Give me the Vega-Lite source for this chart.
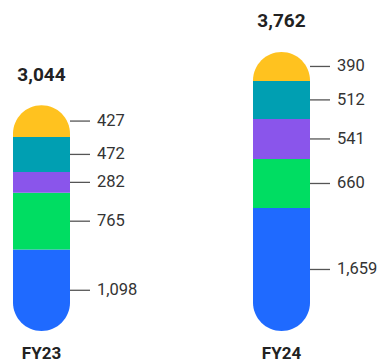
{
  "$schema": "https://vega.github.io/schema/vega-lite/v6.json",
  "width": 380,
  "height": 361,
  "autosize": {"type": "none"},
  "padding": 0,
  "background": "white",
  "config": {"view": {"stroke": null}, "font": "Roboto"},
  "data": {
    "values": [
      {"year": "FY23", "segment": "Segment 1", "order": 1, "value": 1098},
      {"year": "FY23", "segment": "Segment 2", "order": 2, "value": 765},
      {"year": "FY23", "segment": "Segment 3", "order": 3, "value": 282},
      {"year": "FY23", "segment": "Segment 4", "order": 4, "value": 472},
      {"year": "FY23", "segment": "Segment 5", "order": 5, "value": 427},
      {"year": "FY24", "segment": "Segment 1", "order": 1, "value": 1659},
      {"year": "FY24", "segment": "Segment 2", "order": 2, "value": 660},
      {"year": "FY24", "segment": "Segment 3", "order": 3, "value": 541},
      {"year": "FY24", "segment": "Segment 4", "order": 4, "value": 512},
      {"year": "FY24", "segment": "Segment 5", "order": 5, "value": 390}
    ]
  },
  "transform": [
    {"stack": "value", "groupby": ["year"], "sort": [{"field": "order", "order": "ascending"}], "as": ["y0", "y1"]}
  ],
  "encoding": {
    "x": {"field": "year", "type": "nominal", "scale": {"type": "point", "range": [41.5, 281.5], "padding": 0}, "axis": null}
  },
  "layer": [
    {
      "transform": [{"filter": {"field": "order", "gte": 4}}],
      "mark": {"type": "bar", "width": 57, "color": "#FFC21F", "cornerRadiusTopLeft": 28.5, "cornerRadiusTopRight": 28.5},
      "encoding": {
        "y": {"aggregate": "max", "field": "y1", "type": "quantitative", "scale": {"domain": [0, 4463], "range": [331, 0], "nice": false}, "axis": null},
        "y2": {"aggregate": "min", "field": "y0"}
      }
    },
    {
      "transform": [{"filter": {"field": "order", "equal": 1}}],
      "mark": {"type": "bar", "width": 57, "color": "#1F6AFF", "cornerRadiusBottomLeft": 28.5, "cornerRadiusBottomRight": 28.5},
      "encoding": {
        "y": {"field": "y1", "type": "quantitative", "scale": {"domain": [0, 4463], "range": [331, 0], "nice": false}, "axis": null},
        "y2": {"field": "y0"}
      }
    },
    {
      "transform": [{"filter": {"field": "order", "range": [2, 4]}}],
      "mark": {"type": "bar", "width": 57},
      "encoding": {
        "y": {"field": "y1", "type": "quantitative", "scale": {"domain": [0, 4463], "range": [331, 0], "nice": false}, "axis": null},
        "y2": {"field": "y0"},
        "color": {"field": "segment", "type": "nominal", "scale": {"domain": ["Segment 2", "Segment 3", "Segment 4"], "range": ["#00DD62", "#8A55EB", "#009FB2"]}, "legend": null}
      }
    },
    {
      "transform": [
        {"fold": ["y0", "y1"], "as": ["k", "v"]},
        {"aggregate": [{"op": "mean", "field": "v", "as": "mid"}], "groupby": ["year", "segment", "value"]}
      ],
      "layer": [
        {
          "mark": {"type": "rule", "xOffset": 28.5, "x2Offset": 48.5, "color": "#555555", "strokeWidth": 1.3},
          "encoding": {
            "x2": {"field": "year"},
            "y": {"field": "mid", "type": "quantitative", "scale": {"domain": [0, 4463], "range": [331, 0], "nice": false}, "axis": null}
          }
        },
        {
          "mark": {"type": "text", "align": "left", "baseline": "middle", "dx": 55.5, "fontSize": 16.5, "color": "#333333"},
          "encoding": {
            "y": {"field": "mid", "type": "quantitative", "scale": {"domain": [0, 4463], "range": [331, 0], "nice": false}, "axis": null},
            "text": {"field": "value", "type": "quantitative", "format": ","}
          }
        }
      ]
    },
    {
      "mark": {"type": "text", "baseline": "middle", "dy": -30.5, "fontSize": 19, "fontWeight": "bold", "color": "#222222"},
      "encoding": {
        "y": {"aggregate": "max", "field": "y1", "type": "quantitative", "scale": {"domain": [0, 4463], "range": [331, 0], "nice": false}, "axis": null},
        "text": {"aggregate": "sum", "field": "value", "type": "quantitative", "format": ","}
      }
    },
    {
      "transform": [{"aggregate": [{"op": "count", "as": "n"}], "groupby": ["year"]}],
      "mark": {"type": "text", "baseline": "middle", "dy": 23, "fontSize": 17, "fontWeight": "bold", "color": "#222222"},
      "encoding": {
        "y": {"datum": 0, "type": "quantitative", "scale": {"domain": [0, 4463], "range": [331, 0], "nice": false}, "axis": null},
        "text": {"field": "year", "type": "nominal"}
      }
    }
  ]
}
